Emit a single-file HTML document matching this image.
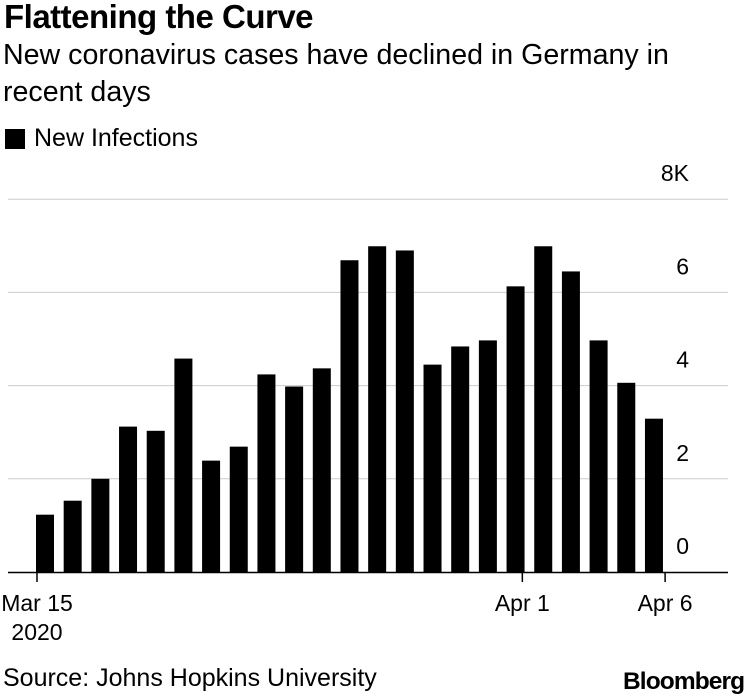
<!DOCTYPE html>
<html><head><meta charset="utf-8"><style>
body{margin:0;background:#fff;width:750px;height:696px;overflow:hidden;font-family:"Liberation Sans",sans-serif;color:#000}
.t{position:absolute;white-space:nowrap}
</style></head><body>
<div class="t" style="left:4px;top:-2px;font-size:33px;font-weight:bold;letter-spacing:-0.5px">Flattening the Curve</div>
<div class="t" style="left:3px;top:37px;font-size:28.6px;line-height:37px;white-space:normal;width:700px">New coronavirus cases have declined in Germany in recent days</div>
<div style="position:absolute;left:5px;top:129px;width:20px;height:20px;background:#000"></div>
<div class="t" style="left:34px;top:124px;font-size:25px">New Infections</div>
<svg id="c" width="750" height="696" style="position:absolute;left:0;top:0"></svg>
<div class="t" style="left:3px;top:664px;font-size:25px">Source: Johns Hopkins University</div>
<div class="t" style="left:623px;top:668px;font-size:24.5px;font-weight:bold;letter-spacing:-0.9px">Bloomberg</div>
<script>
const values=[1.23,1.53,2.0,3.12,3.03,4.58,2.39,2.69,4.24,3.98,4.37,6.69,6.99,6.9,4.45,4.84,4.97,6.13,6.99,6.45,4.97,4.06,3.29];
const yTicks=[0,2,4,6,8];
const yTickLabels=["0","2","4","6","8K"];
const xTickDays=[0,17,22];
const xTickLabels=[["Mar 15","2020"],["Apr 1"],["Apr 6"]];
const NS="http://www.w3.org/2000/svg",svg=document.getElementById('c');
const y=v=>572-v*46.6;
const barX=i=>36+i*27.68;
const dayX=d=>37+d*28.55;
function mk(t,a){const e=document.createElementNS(NS,t);for(const k in a)e.setAttribute(k,a[k]);svg.appendChild(e);return e;}
yTicks.forEach((v,i)=>{
 if(v>0){const l=mk('line',{x1:8,x2:728,y1:y(v),y2:y(v),stroke:'#ccc','stroke-width':1});
 
 }
 const t=mk('text',{x:689,y:y(v)-18,'text-anchor':'end','font-size':23,'font-family':'Liberation Sans'});
 t.textContent=yTickLabels[i];
 
 
});
values.forEach((v,i)=>{
 const r=mk('rect',{x:barX(i),y:y(v),width:18,height:572-y(v),fill:'#000'});
 
 
});
const ax=mk('line',{x1:8,x2:728,y1:572.5,y2:572.5,stroke:'#000','stroke-width':1.5});


xTickDays.forEach((d,i)=>{
 const tk=mk('line',{x1:dayX(d),x2:dayX(d),y1:572,y2:582,stroke:'#000','stroke-width':1.5});
 
 
 xTickLabels[i].forEach((s,j)=>{
  const t=mk('text',{x:dayX(d),y:611+j*29,'text-anchor':'middle','font-size':23,'font-family':'Liberation Sans'});
  t.textContent=s;
  
  
 });
});
</script>
</body></html>
